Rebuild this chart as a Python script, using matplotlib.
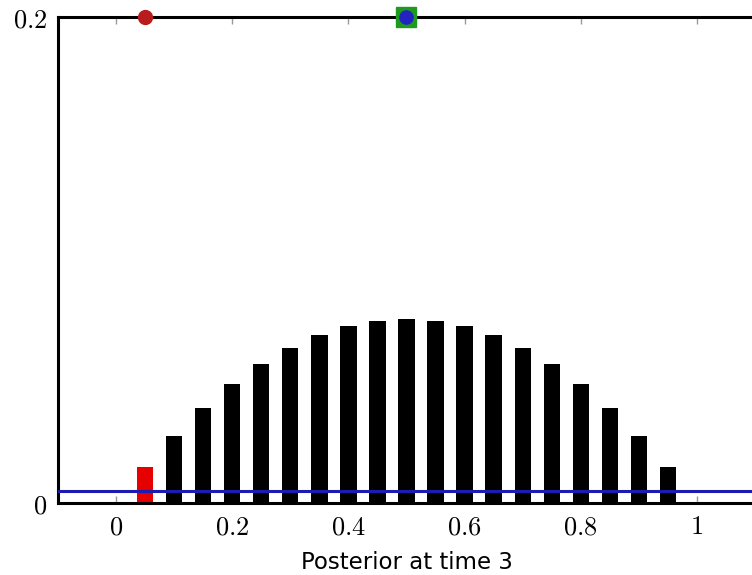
import matplotlib
matplotlib.use("Agg")
import matplotlib.pyplot as plt
import numpy as np

plt.rcParams['mathtext.fontset'] = 'cm'

# Data
bar_x = [0.05, 0.10, 0.15, 0.20, 0.25, 0.30, 0.35, 0.40, 0.45, 0.50,
         0.55, 0.60, 0.65, 0.70, 0.75, 0.80, 0.85, 0.90, 0.95]
bar_h = [0.0150, 0.0276, 0.0390, 0.0488, 0.0570, 0.0638, 0.0692, 0.0729, 0.0751, 0.0758,
         0.0751, 0.0729, 0.0692, 0.0638, 0.0570, 0.0488, 0.0390, 0.0276, 0.0150]
bar_colors = ['#e60000'] + ['black'] * 18
hline_y = 0.005
red_pt = (0.05, 0.2)
green_pt = (0.5, 0.2)
xticks = [0, 0.2, 0.4, 0.6, 0.8, 1]
xtick_labels = ['$0$', '$0.2$', '$0.4$', '$0.6$', '$0.8$', '$1$']
yticks = [0, 0.2]
ytick_labels = ['$0$', '$0.2$']
xlabel = 'Posterior at time 3'

fig = plt.figure(figsize=(7.52, 5.75), dpi=100)
ax = fig.add_axes([58/752, 1 - 503/575, (755 - 58)/752, (503 - 17)/575])

ax.bar(bar_x, bar_h, width=0.028, color=bar_colors, zorder=2)
ax.axhline(hline_y, color='#1c1cb0', lw=2.2, zorder=3)

ax.plot(*red_pt, 'o', color='#b81c1c', ms=10, clip_on=False, zorder=5)
ax.plot(*green_pt, 's', color='#1e9a1e', ms=14, clip_on=False, zorder=5)
ax.plot(*green_pt, 'o', color='#2323c0', ms=9.5, clip_on=False, zorder=6)

ax.set_xlim(-0.1, 1.1)
ax.set_ylim(0, 0.2)
ax.set_xticks(xticks)
ax.set_xticklabels(xtick_labels, fontsize=19)
ax.set_yticks(yticks)
ax.set_yticklabels(ytick_labels, fontsize=19)
ax.tick_params(axis='x', direction='in', length=5, color='#999999', width=1,
               top=True, pad=8)
ax.tick_params(axis='y', length=0, pad=8)

for s in ['left', 'bottom', 'top']:
    ax.spines[s].set_linewidth(2.2)
    ax.spines[s].set_color('black')
ax.spines['right'].set_visible(False)

ax.set_xlabel(xlabel, fontsize=16.5, labelpad=8)

fig.savefig('out.png', dpi=100)
